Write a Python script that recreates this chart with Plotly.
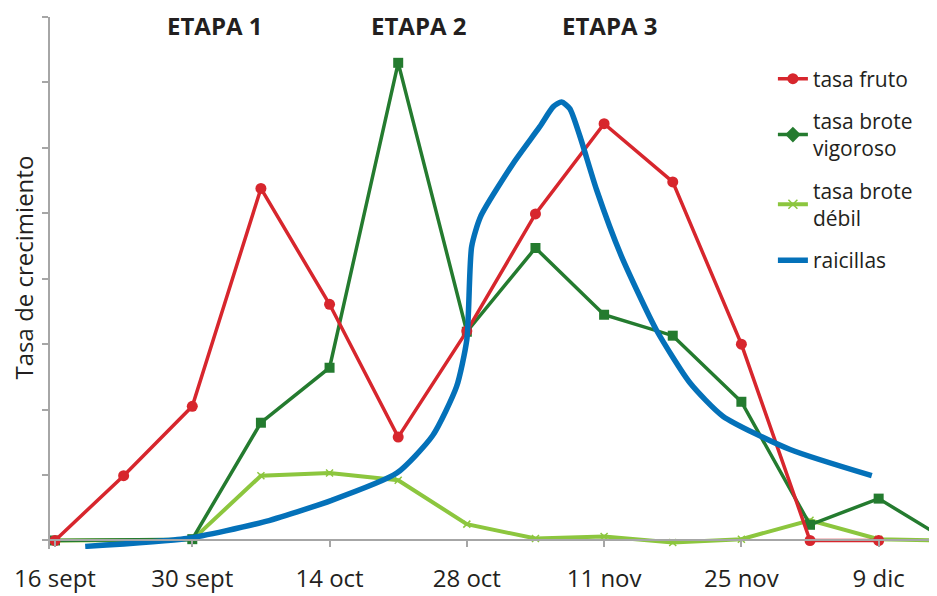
import plotly.graph_objects as go

# x positions are weeks since 16 sept
weeks = list(range(14))
tick_weeks = [0, 2, 4, 6, 8, 10, 12]
tick_labels = ["16 sept", "30 sept", "14 oct", "28 oct", "11 nov", "25 nov", "9 dic"]

fruto = [0, 0.99, 2.05, 5.38, 3.61, 1.58, 3.2, 4.99, 6.37, 5.48, 3.0, 0, 0, None]
vigoroso = [0, None, 0.02, 1.80, 2.64, 7.30, 3.19, 4.47, 3.45, 3.13, 2.12, 0.24, 0.64, 0]
debil = [0, None, 0.01, 0.99, 1.03, 0.92, 0.25, 0.03, 0.06, -0.03, 0.02, 0.31, 0.02, 0]

raic_x = [0.44, 1.92, 3.03, 4.02, 4.98, 5.50, 5.85, 6.00, 6.07, 6.20, 6.68, 7.06,
          7.26, 7.38, 7.50, 7.65, 7.89, 8.25, 8.76, 9.25, 9.73, 10.71, 11.90]
raic_y = [-0.09, 0.03, 0.28, 0.61, 1.03, 1.60, 2.35, 3.07, 4.49, 4.95, 5.77, 6.32,
          6.63, 6.70, 6.60, 6.17, 5.36, 4.35, 3.22, 2.41, 1.90, 1.39, 0.99]

etapas = ["ETAPA 1", "ETAPA 2", "ETAPA 3"]
etapa_x = [2.33, 5.29, 8.08]

RED = "#d7262d"
DGREEN = "#247b2f"
LGREEN = "#8cc63e"
BLUE = "#0471b9"
TXT = "#231f20"
AX = "#a6a6a6"
FONT = "'Open Sans', sans-serif"

fig = go.Figure()
fig.add_trace(go.Scatter(x=weeks, y=debil, mode="lines+markers", name="tasa brote<br>débil",
                         line=dict(color=LGREEN, width=4), connectgaps=True,
                         marker=dict(symbol="x-thin", size=7, line=dict(color=LGREEN, width=1.5)),
                         showlegend=False))
fig.add_trace(go.Scatter(x=weeks, y=vigoroso, mode="lines+markers", name="tasa brote<br>vigoroso",
                         line=dict(color=DGREEN, width=3.5), connectgaps=True,
                         marker=dict(symbol="square", size=10, color=DGREEN), showlegend=False))
fig.add_trace(go.Scatter(x=weeks, y=fruto, mode="lines+markers", name="tasa fruto",
                         line=dict(color=RED, width=3.5),
                         marker=dict(symbol="circle", size=11, color=RED), showlegend=False))
fig.add_trace(go.Scatter(x=raic_x, y=raic_y, mode="lines", name="raicillas",
                         line=dict(color=BLUE, width=5.5, shape="spline", smoothing=0.6),
                         showlegend=False))

# legend entries
fig.add_trace(go.Scatter(x=[None], y=[None], mode="lines+markers", name="tasa fruto",
                         line=dict(color=RED, width=3.5), marker=dict(symbol="circle", size=11, color=RED),
                         legendgroup="a"))
fig.add_trace(go.Scatter(x=[None], y=[None], mode="lines+markers", name="tasa brote<br>vigoroso",
                         line=dict(color=DGREEN, width=3.5), marker=dict(symbol="diamond", size=12, color=DGREEN),
                         legendgroup="b"))
fig.add_trace(go.Scatter(x=[None], y=[None], mode="lines+markers", name="tasa brote<br>débil",
                         line=dict(color=LGREEN, width=4),
                         marker=dict(symbol="x-thin", size=9, line=dict(color=LGREEN, width=1.5)),
                         legendgroup="c"))
fig.add_trace(go.Scatter(x=[None], y=[None], mode="lines", name="raicillas",
                         line=dict(color=BLUE, width=5.5), legendgroup="d"))

ymin, ymax = -0.13, 8
for t, xv in zip(etapas, etapa_x):
    fig.add_annotation(text="<b>" + t + "</b>", x=xv, xref="x", y=1.0, yref="paper",
                       yanchor="middle", yshift=-8, showarrow=False,
                       font=dict(size=24, color=TXT, family=FONT))

fig.add_annotation(text="Tasa de crecimiento", textangle=-90, x=-0.03, xref="paper",
                   xanchor="center", y=0.530, yref="paper", yanchor="middle", showarrow=False,
                   font=dict(size=24, color=TXT, family=FONT))

fig.update_layout(
    width=929, height=588,
    margin=dict(l=42, r=0, t=9, b=47, autoexpand=False),
    paper_bgcolor="white", plot_bgcolor="white",
    font=dict(family=FONT, color=TXT, size=22),
    legend=dict(x=0.815, y=0.922, xanchor="left", yanchor="top", tracegroupgap=12,
                font=dict(size=21, color=TXT, family=FONT), bgcolor="rgba(0,0,0,0)",
                itemwidth=30),
    xaxis=dict(range=[-0.073, 12.85], tickvals=tick_weeks, ticktext=tick_labels,
               showgrid=False, zeroline=False, showline=True, linecolor=AX, linewidth=1.5,
               ticks="outside", ticklen=6, tickcolor=AX, tickwidth=1.5, automargin=False,
               anchor="free", position=(0 - ymin) / (ymax - ymin),
               ticklabelstandoff=11, tickfont=dict(size=24, color=TXT, family=FONT)),
    yaxis=dict(range=[ymin, ymax], tickvals=list(range(9)), showticklabels=False,
               showgrid=False, zeroline=False, showline=True, linecolor=AX, linewidth=1.5,
               ticks="outside", ticklen=6, tickcolor=AX, tickwidth=1.5, automargin=False),
)

fig.write_html("out.html")
